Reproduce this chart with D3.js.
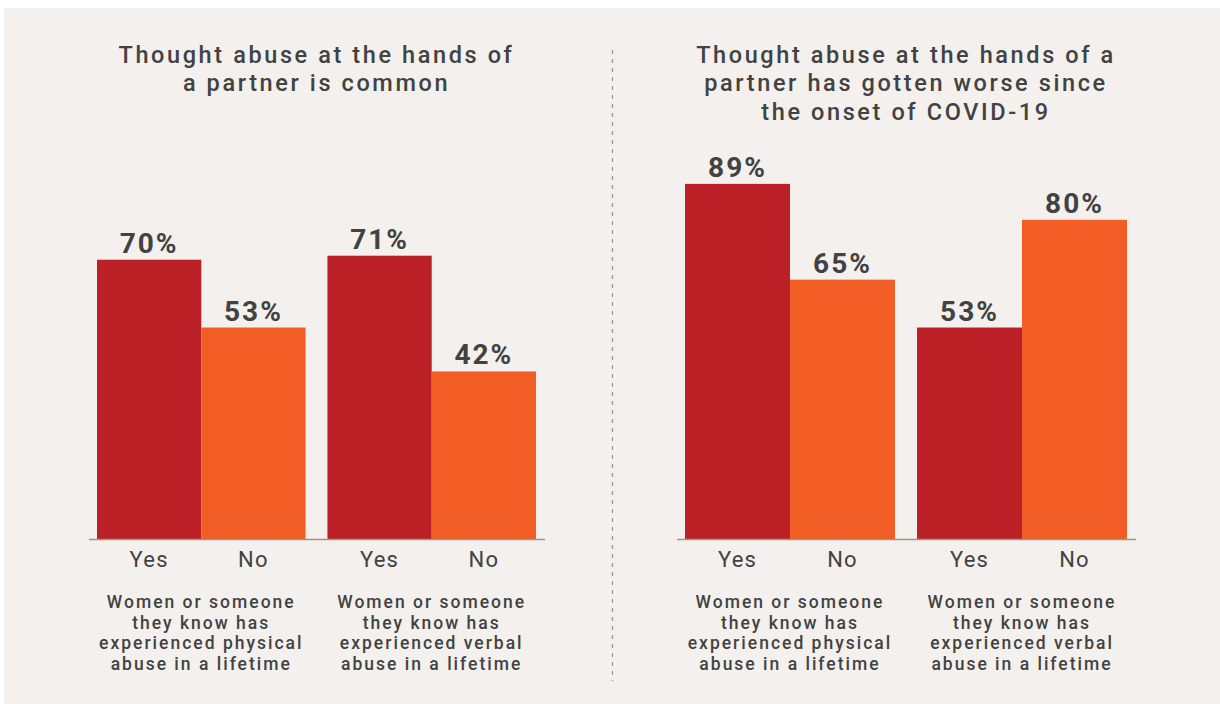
<!DOCTYPE html>
<html>
<head>
<meta charset="utf-8">
<script src="https://cdn.jsdelivr.net/npm/d3@7"></script>
<style>
  html, body { margin: 0; padding: 0; background: #ffffff; }
  svg { display: block; }
  text { font-family: Roboto, "Open Sans", sans-serif; fill: #424242; }
</style>
</head>
<body>
<svg id="chart" width="1220" height="704"></svg>
<script>
// data
const answers = ["Yes", "No"];
const groupKeys = ["physical", "verbal"];
const groupDescriptions = [
  ["Women or someone", "they know has", "experienced physical", "abuse in a lifetime"],
  ["Women or someone", "they know has", "experienced verbal", "abuse in a lifetime"]
];
const commonTitle = ["Thought abuse at the hands of", "a partner is common"];
const worseTitle = ["Thought abuse at the hands of a", "partner has gotten worse since", "the onset of COVID-19"];
const commonValues = [[70, 53], [71, 42]];
const worseValues = [[89, 65], [53, 80]];

const COLORS = { Yes: "#bc2027", No: "#f15d24" };
const BASELINE = 539;

const svg = d3.select("#chart");

svg.append("rect")
  .attr("x", 4).attr("y", 8)
  .attr("width", 1216).attr("height", 696)
  .attr("fill", "#f3f0ed");

// dashed divider
svg.append("line")
  .attr("x1", 612.5).attr("x2", 612.5)
  .attr("y1", 50).attr("y2", 681)
  .attr("stroke", "#a8998a")
  .attr("stroke-width", 1.3)
  .attr("stroke-dasharray", "4 5");

const y = d3.scaleLinear().domain([0, 100]).range([BASELINE, BASELINE - 399]);

const drawPanel = (title, values, left, right) => {
  const g = svg.append("g");
  const center = (left + right) / 2;

  const x0 = d3.scaleBand().domain(groupKeys).range([left, right]).paddingInner(0.095);
  const x1 = d3.scaleBand().domain(answers).range([0, x0.bandwidth()]);

  g.append("g").selectAll("text")
    .data(title)
    .join("text")
    .attr("x", center)
    .attr("y", (d, i) => 63 + i * 28.3)
    .attr("text-anchor", "middle")
    .style("font-size", "23.5px")
    .style("font-weight", 500)
    .style("letter-spacing", "2.6px")
    .text(d => d);

  const groups = g.selectAll(".group")
    .data(groupKeys.map((k, i) => ({ key: k, values: values[i], desc: groupDescriptions[i] })))
    .join("g")
    .attr("class", "group")
    .attr("transform", d => `translate(${x0(d.key)},0)`);

  const bars = groups.selectAll(".bar")
    .data(d => answers.map((a, i) => ({ answer: a, value: d.values[i] })))
    .join("g")
    .attr("class", "bar");

  bars.append("rect")
    .attr("x", d => x1(d.answer))
    .attr("y", d => y(d.value))
    .attr("width", x1.bandwidth())
    .attr("height", d => y(0) - y(d.value))
    .attr("fill", d => COLORS[d.answer]);

  bars.append("text")
    .attr("x", d => x1(d.answer) + x1.bandwidth() / 2)
    .attr("y", d => y(d.value) - 7)
    .attr("text-anchor", "middle")
    .style("font-size", "28px")
    .style("font-weight", 700)
    .style("letter-spacing", "2px")
    .text(d => d.value + "%");

  bars.append("text")
    .attr("x", d => x1(d.answer) + x1.bandwidth() / 2)
    .attr("y", 567)
    .attr("text-anchor", "middle")
    .style("font-size", "22px")
    .style("letter-spacing", "1.2px")
    .text(d => d.answer);

  groups.append("g").selectAll("text")
    .data(d => d.desc)
    .join("text")
    .attr("x", x0.bandwidth() / 2)
    .attr("y", (d, i) => 608 + i * 20.7)
    .attr("text-anchor", "middle")
    .style("font-size", "17.5px")
    .style("font-weight", 500)
    .style("letter-spacing", "2px")
    .text(d => d);

  g.append("line")
    .attr("x1", left - 8).attr("x2", right + 9)
    .attr("y1", y(0) + 0.5).attr("y2", y(0) + 0.5)
    .attr("stroke", "#a39584")
    .attr("stroke-width", 1.5);
};

drawPanel(commonTitle, commonValues, 97, 536);
drawPanel(worseTitle, worseValues, 685, 1127);
</script>
</body>
</html>
